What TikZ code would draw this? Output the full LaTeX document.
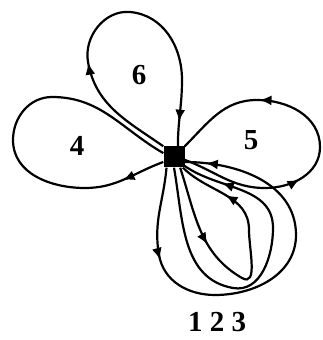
\documentclass[tikz,border=0pt]{standalone}
\usepackage{fontspec}
\setmainfont{Liberation Serif}
\usepackage{tikz}
\usetikzlibrary{arrows.meta, decorations.markings}

\begin{document}
\begin{tikzpicture}[x=1pt, y=1pt,
  hub/.style={fill=black, minimum size=21pt, inner sep=0pt},
  loopline/.style={line width=2.2pt, line join=round},
  tip/.style={postaction={decorate, decoration={markings,
      mark=at position #1 with {\arrow{Latex[length=12pt, width=10pt]}}}}},
  num/.style={inner sep=0pt, font=\fontsize{29}{31}\selectfont\bfseries}
]
  \useasboundingbox (0,0) rectangle (322,340);

  \node[hub] (v) at (174,183) {};

  % upper loop
  \draw[loopline, tip=0.33, tip=0.93] (v.north west) to[out=145,in=-80] (88,278)
    to[out=100,in=175] (130,328) to[out=-5,in=90] (182,260) to[out=-90,in=90] (v.70);
  % left loop
  \draw[loopline, tip=0.12] (v.205) to[out=200,in=0] (85,152)
    to[out=180,in=-90] (13,200) to[out=90,in=180] (52,243) to[out=0,in=150] (v.160);
  % right loop
  \draw[loopline, tip=0.36, tip=0.73] (v.-15) to[out=-20,in=180] (265,152)
    to[out=0,in=-90] (320,193) to[out=90,in=0] (257,240) to[out=180,in=45] (v.north east);

  % lower loops
  \draw[loopline, tip=0.22, tip=0.95] (v.235) to[out=-95,in=100] (159,85)
    to[out=-80,in=180] (215,45) to[out=0,in=-90] (296,105) to[out=90,in=0] (v.-25);
  \draw[loopline, tip=0.88] (v.270) to[out=-80,in=170] (233,52)
    to[out=-10,in=-90] (273,112) to[out=90,in=-35] (v.-40);
  \draw[loopline, tip=0.29, tip=0.82] (v.300) to[out=-72,in=150] (242,62)
    to[out=-30,in=-90] (249,110) to[out=90,in=-45] (v.-50);

  \node[num] (l6) at (139,265) {6};
  \node[num] (l4) at (77,194) {4};
  \node[num] (l5) at (251,200) {5};
  \node[num] (l123) at (217,18) {1 2 3};
\end{tikzpicture}
\end{document}
